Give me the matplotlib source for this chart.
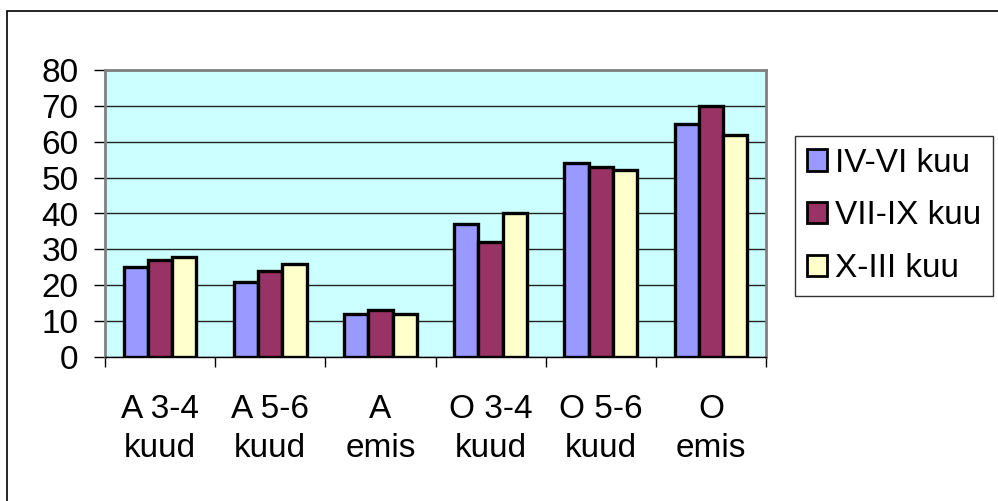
import matplotlib

matplotlib.use("Agg")
import matplotlib.pyplot as plt
from matplotlib.patches import Rectangle, Patch
import numpy as np

plt.rcParams["font.family"] = ["Liberation Sans", "DejaVu Sans"]

categories = ["A 3-4\nkuud", "A 5-6\nkuud", "A\nemis", "O 3-4\nkuud", "O 5-6\nkuud", "O\nemis"]
series_names = ["IV-VI kuu", "VII-IX kuu", "X-III kuu"]
iv_vi = [25, 21, 12, 37, 54, 65]
vii_ix = [27, 24, 13, 32, 53, 70]
x_iii = [28, 26, 12, 40, 52, 62]
colors = ["#9999FF", "#993366", "#FFFFCC"]

W, H = 998, 501
fig = plt.figure(figsize=(W / 100, H / 100), dpi=100)

# outer chart frame (only top/left edges fall inside the canvas)
fig.patches.append(Rectangle((7 / W, -0.1), 1.2, (H - 11) / H + 0.1, transform=fig.transFigure,
                             fill=False, edgecolor="black", linewidth=1.2))

ax = fig.add_axes([105 / W, (H - 357) / H, 661 / W, 287 / H])
ax.set_facecolor("#CCFFFF")

x = np.arange(len(categories)) + 0.5
bw = 0.22
for j, (vals, name) in enumerate(zip([iv_vi, vii_ix, x_iii], series_names)):
    ax.bar(x + (j - 1) * bw, vals, width=bw, color=colors[j], edgecolor="black",
           linewidth=2.4, label=name, zorder=3)

ax.set_xlim(0, 6)
ax.set_ylim(0, 80)
ax.set_yticks(range(0, 81, 10))
ax.yaxis.grid(True, color="#222222", linewidth=1)
ax.set_axisbelow(True)

ax.set_xticks(range(0, 7))
ax.set_xticklabels([])
ax.set_xticks(x, minor=True)
ax.set_xticklabels(categories, minor=True, fontsize=24, linespacing=1.3)
ax.tick_params(axis="x", which="minor", length=0, pad=27)
ax.tick_params(axis="x", which="major", length=7.5, width=1, color="black", direction="out")
ax.tick_params(axis="y", length=8, width=1, color="black", labelsize=24, pad=11)

for side in ("top", "right", "left"):
    ax.spines[side].set_color("#808080")
    ax.spines[side].set_linewidth(2)
ax.spines["bottom"].set_color("black")
ax.spines["bottom"].set_linewidth(1)

handles = [Patch(facecolor=c, edgecolor="black", linewidth=2) for c in colors]
leg = fig.legend(handles, series_names, loc="upper left",
                 bbox_to_anchor=(795 / W, 1 - 136 / H), fontsize=24,
                 frameon=True, fancybox=False, shadow=False,
                 handlelength=0.6, handleheight=0.6, handletextpad=0.25,
                 labelspacing=0.65, borderpad=0.35, borderaxespad=0)
leg.get_frame().set_edgecolor("black")
leg.get_frame().set_linewidth(1)

fig.savefig("out.png", dpi=100)
